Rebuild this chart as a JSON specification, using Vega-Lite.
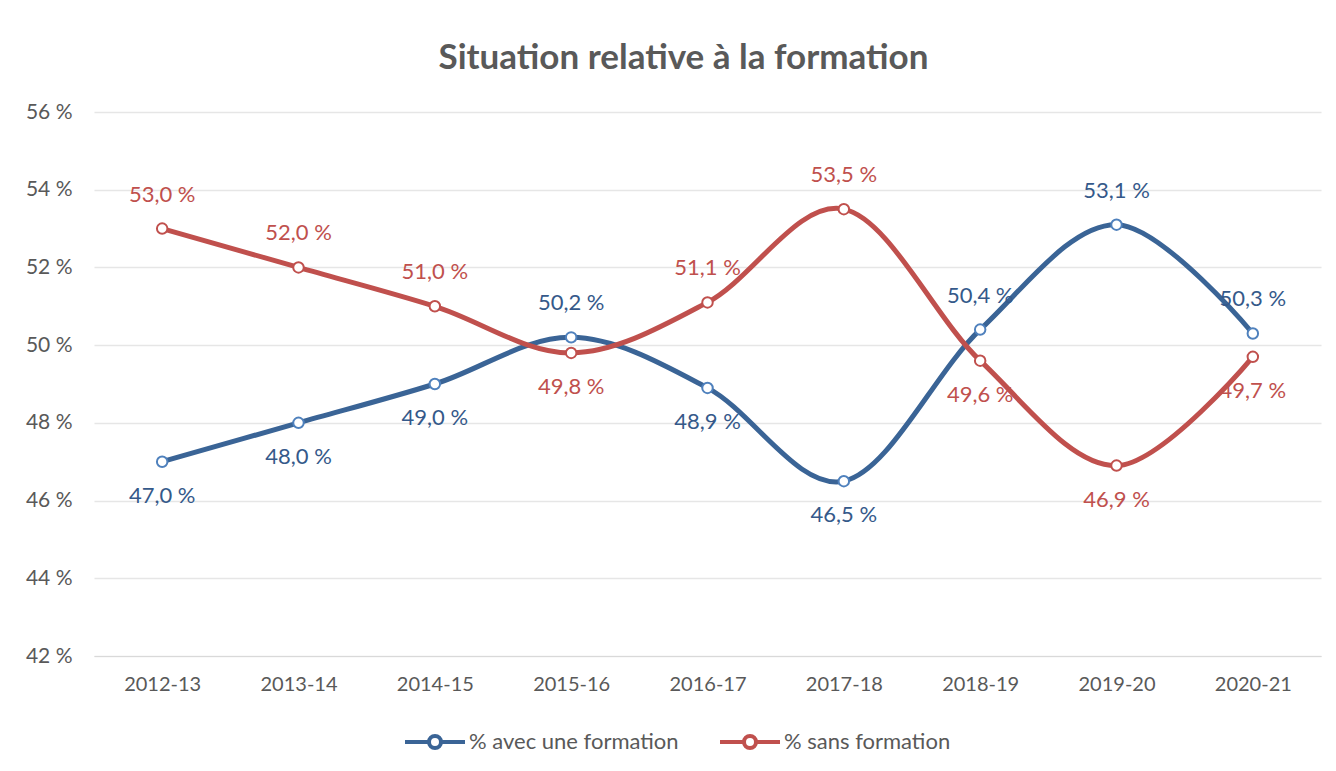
{
  "$schema": "https://vega.github.io/schema/vega-lite/v6.json",
  "width": 1227,
  "height": 544,
  "autosize": {"type": "none"},
  "padding": {"left": 94, "top": 112, "right": 15, "bottom": 115},
  "background": "white",
  "config": {"font": "Lato", "view": {"stroke": null}},
  "title": {"text": "Situation relative à la formation", "fontSize": 35, "fontWeight": "bold", "color": "#595959", "anchor": "middle", "offset": 25, "dx": -24, "font": "Lato"},
  "data": {"values": [
    {"year": "2012-13", "series": "% avec une formation", "value": 47.0},
    {"year": "2013-14", "series": "% avec une formation", "value": 48.0},
    {"year": "2014-15", "series": "% avec une formation", "value": 49.0},
    {"year": "2015-16", "series": "% avec une formation", "value": 50.2},
    {"year": "2016-17", "series": "% avec une formation", "value": 48.9},
    {"year": "2017-18", "series": "% avec une formation", "value": 46.5},
    {"year": "2018-19", "series": "% avec une formation", "value": 50.4},
    {"year": "2019-20", "series": "% avec une formation", "value": 53.1},
    {"year": "2020-21", "series": "% avec une formation", "value": 50.3},
    {"year": "2012-13", "series": "% sans formation", "value": 53.0},
    {"year": "2013-14", "series": "% sans formation", "value": 52.0},
    {"year": "2014-15", "series": "% sans formation", "value": 51.0},
    {"year": "2015-16", "series": "% sans formation", "value": 49.8},
    {"year": "2016-17", "series": "% sans formation", "value": 51.1},
    {"year": "2017-18", "series": "% sans formation", "value": 53.5},
    {"year": "2018-19", "series": "% sans formation", "value": 49.6},
    {"year": "2019-20", "series": "% sans formation", "value": 46.9},
    {"year": "2020-21", "series": "% sans formation", "value": 49.7}
  ]},
  "encoding": {
    "x": {"field": "year", "type": "ordinal", "sort": null, "scale": {"type": "point", "padding": 0.5},
      "axis": {"title": null, "labelAngle": 0, "labelFontSize": 20, "labelColor": "#595959", "labelPadding": 18, "ticks": false, "domain": true, "domainColor": "#D9D9D9", "grid": false}},
    "y": {"field": "value", "type": "quantitative", "scale": {"domain": [42, 56], "nice": false, "zero": false},
      "axis": {"title": null, "values": [42, 44, 46, 48, 50, 52, 54, 56], "labelExpr": "datum.value + ' %'", "labelFontSize": 21, "labelColor": "#595959", "labelPadding": 22, "ticks": false, "domain": false, "grid": true, "gridColor": "#E6E6E6", "gridWidth": 1.3}}
  },
  "layer": [
    {
      "mark": {"type": "line", "interpolate": "cardinal", "strokeWidth": 5},
      "encoding": {
        "stroke": {"field": "series", "type": "nominal", "scale": {"domain": ["% avec une formation", "% sans formation"], "range": ["#3A6496", "#C0504D"]},
          "legend": {"title": null, "orient": "none", "legendX": 309, "legendY": 598, "direction": "horizontal", "padding": 0,
            "symbolType": "M-1,0L-0.22,0M0.22,0L1,0M0.2,0A0.2,0.2,0,1,1,-0.2,0A0.2,0.2,0,1,1,0.2,0",
            "symbolSize": 3600, "symbolStrokeWidth": 4, "symbolFillColor": "white", "labelFontSize": 22, "labelColor": "#595959", "labelOffset": 2, "columnPadding": 33, "labelLimit": 400,
            "encode": {"symbols": {"update": {"fill": {"value": "white"}, "fillOpacity": {"value": 1}}}}}}
      }
    },
    {
      "mark": {"type": "point", "filled": false, "fill": "white", "size": 110, "strokeWidth": 2, "opacity": 1},
      "encoding": {
        "color": {"field": "series", "type": "nominal", "scale": {"domain": ["% avec une formation", "% sans formation"], "range": ["#4F81BD", "#C0504D"]}, "legend": null}
      }
    },
    {
      "transform": [
        {"joinaggregate": [{"op": "max", "field": "value", "as": "maxv"}], "groupby": ["year"]},
        {"filter": "datum.value == datum.maxv"},
        {"calculate": "replace(format(datum.value, '.1f'), '.', ',') + ' %'", "as": "label"}
      ],
      "mark": {"type": "text", "dy": -34, "fontSize": 22, "baseline": "middle"},
      "encoding": {"text": {"field": "label"}, "color": {"condition": {"test": "datum.series == '% avec une formation'", "value": "#35598A"}, "value": "#C0504D"}}
    },
    {
      "transform": [
        {"joinaggregate": [{"op": "max", "field": "value", "as": "maxv"}], "groupby": ["year"]},
        {"filter": "datum.value < datum.maxv"},
        {"calculate": "replace(format(datum.value, '.1f'), '.', ',') + ' %'", "as": "label"}
      ],
      "mark": {"type": "text", "dy": 34, "fontSize": 22, "baseline": "middle"},
      "encoding": {"text": {"field": "label"}, "color": {"condition": {"test": "datum.series == '% avec une formation'", "value": "#35598A"}, "value": "#C0504D"}}
    }
  ]
}
